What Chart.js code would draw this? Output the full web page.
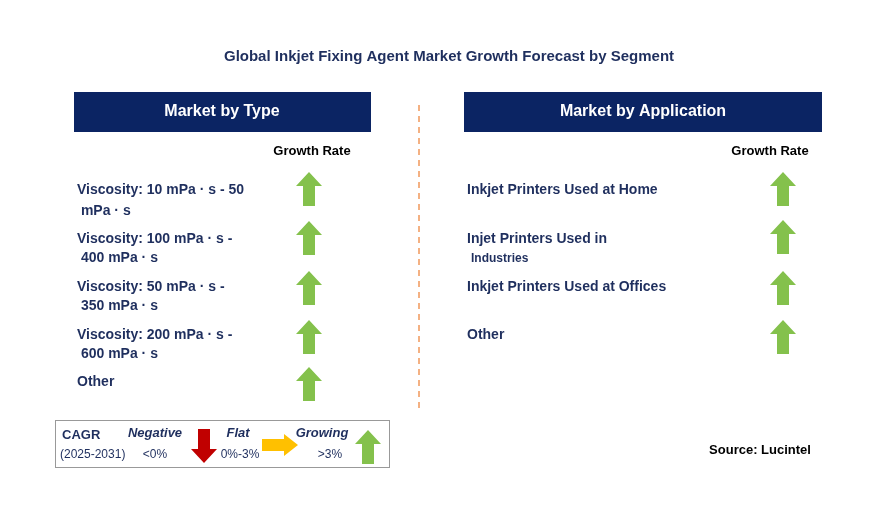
<!DOCTYPE html>
<html><head><meta charset="utf-8">
<script src="https://cdn.jsdelivr.net/npm/chart.js@4"></script>
<style>html,body{margin:0;padding:0;background:#fff}</style>
</head><body>
<canvas id="c" width="887" height="513"></canvas>
<script>
const title = "Global Inkjet Fixing Agent Market Growth Forecast by Segment";
const typeCategories = [["Viscosity: 10 mPa · s - 50"," mPa · s"],["Viscosity: 100 mPa · s -"," 400 mPa · s"],["Viscosity: 50 mPa · s -"," 350 mPa · s"],["Viscosity: 200 mPa · s -"," 600 mPa · s"],["Other"]];
const typeGrowth = ["growing","growing","growing","growing","growing"];
const appCategories = [["Inkjet Printers Used at Home"],["Injet Printers Used in","Industries"],["Inkjet Printers Used at Offices"],["Other"]];
const appGrowth = ["growing","growing","growing","growing"];
const legendItems = [["Negative","<0%"],["Flat","0%-3%"],["Growing",">3%"]];

const NAVY="#1f2f5e", BOX="#0b2463";
function arrowImg(kind){
  const c=document.createElement('canvas');
  const w = kind==='flat'?36:26, h = kind==='flat'?22:34;
  c.width=w;c.height=h;const g=c.getContext('2d');
  g.fillStyle = kind==='growing'?'#84c14c':kind==='negative'?'#c00000':'#ffc000';
  g.beginPath();
  if(kind==='growing'){g.moveTo(13,0);g.lineTo(26,14);g.lineTo(19,14);g.lineTo(19,34);g.lineTo(7,34);g.lineTo(7,14);g.lineTo(0,14);}
  else if(kind==='negative'){g.moveTo(13,34);g.lineTo(26,20);g.lineTo(19,20);g.lineTo(19,0);g.lineTo(7,0);g.lineTo(7,20);g.lineTo(0,20);}
  else {g.moveTo(36,11);g.lineTo(22,0);g.lineTo(22,5);g.lineTo(0,5);g.lineTo(0,17);g.lineTo(22,17);g.lineTo(22,22);}
  g.closePath();g.fill();return c;
}
const imgs={growing:arrowImg('growing'),negative:arrowImg('negative'),flat:arrowImg('flat')};
const typeY=[189,238,288,337,384], appY=[189,237,288,337];
const pts=[];
typeGrowth.forEach((g,i)=>pts.push({x:309,y:typeY[i],k:g}));
appGrowth.forEach((g,i)=>pts.push({x:783,y:appY[i],k:g}));
[['negative',204,446],['flat',280,445],['growing',368,447]].forEach(a=>pts.push({x:a[1],y:a[2],k:a[0]}));

const deco={id:'deco',afterDraw(ch){
  const g=ch.ctx,X=ch.scales.x,Y=ch.scales.y;
  const px=v=>X.getPixelForValue(v),py=v=>Y.getPixelForValue(v);
  const txt=(t,x,y,font,col,al)=>{g.font=font;g.fillStyle=col||NAVY;g.textAlign=al||'left';g.textBaseline='middle';g.fillText(t,px(x),py(y));};
  g.save();
  txt(title,449,57,'bold 15px "Liberation Sans"',NAVY,'center');
  g.fillStyle=BOX;g.fillRect(px(74),py(92),px(371)-px(74),py(132)-py(92));g.fillRect(px(464),py(92),px(822)-px(464),py(132)-py(92));
  txt("Market by Type",222,112,'bold 16px "Liberation Sans"','#fff','center');
  txt("Market by Application",643,112,'bold 16px "Liberation Sans"','#fff','center');
  txt("Growth Rate",312,151,'bold 13px "Liberation Sans"','#000','center');
  txt("Growth Rate",770,151,'bold 13px "Liberation Sans"','#000','center');
  g.strokeStyle='#f4b183';g.lineWidth=2;g.setLineDash([6,5]);g.beginPath();g.moveTo(px(419),py(105));g.lineTo(px(419),py(408));g.stroke();g.setLineDash([]);
  const tl=[[190,211],[239,258],[287,306],[335,354],[382]];
  typeCategories.forEach((c,i)=>c.forEach((l,j)=>txt(l,77,tl[i][j],'bold 14px "Liberation Sans"')));
  const al=[[190],[239,259],[287],[335]];
  appCategories.forEach((c,i)=>c.forEach((l,j)=>txt(l,j?471:467,al[i][j],j?'bold 12px "Liberation Sans"':'bold 14px "Liberation Sans"')));
  g.strokeStyle='#999';g.lineWidth=1;g.strokeRect(px(55)+.5,py(420)+.5,px(389)-px(55),py(467)-py(420));
  txt("CAGR",62,435,'bold 13px "Liberation Sans"');
  txt("(2025-2031)",60,455,'12px "Liberation Sans"');
  const lx=[[155,155],[238,240],[322,330]];
  legendItems.forEach((it,i)=>{txt(it[0],lx[i][0],433,'italic bold 13px "Liberation Sans"',NAVY,'center');txt(it[1],lx[i][1],455,'12px "Liberation Sans"',NAVY,'center');});
  txt("Source: Lucintel",760,450,'bold 13px "Liberation Sans"','#000','center');
  g.restore();
}};
new Chart(document.getElementById('c'),{type:'scatter',
 data:{datasets:[{data:pts,pointStyle:pts.map(p=>imgs[p.k]),pointRadius:10,clip:false}]},
 options:{responsive:false,animation:false,layout:{padding:0,autoPadding:false},
  plugins:{legend:{display:false},tooltip:{enabled:false}},
  scales:{x:{type:'linear',min:0,max:887,display:false},y:{type:'linear',min:0,max:513,reverse:true,display:false}}},
 plugins:[deco]});
</script></body></html>
